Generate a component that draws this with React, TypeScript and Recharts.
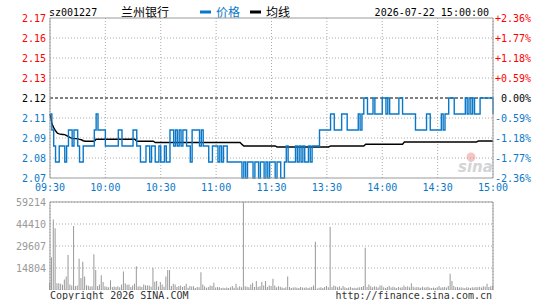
import { LineChart, Line, BarChart, Bar, XAxis, YAxis, CartesianGrid, ReferenceLine } from 'recharts';

const MONO = '"DejaVu Sans Mono", "Liberation Mono", monospace';
const CJK = '"Noto Sans CJK SC", sans-serif';
const BLUE = '#0a78c8';
const RED = '#ff0000';
const GRID = '#aaa';
const BORDER = '#999';

// minute-by-minute quotes, 09:30..11:30 + 13:00..15:00 (241 points)
const prices = [
  2.11, 2.10, 2.09, 2.08, 2.08, 2.09, 2.09, 2.09, 2.08, 2.09,
  2.10, 2.10, 2.09, 2.10, 2.10, 2.09, 2.08, 2.08, 2.09, 2.09,
  2.09, 2.09, 2.09, 2.09, 2.10, 2.11, 2.10, 2.10, 2.10, 2.10,
  2.09, 2.09, 2.09, 2.09, 2.09, 2.09, 2.09, 2.10, 2.10, 2.09,
  2.09, 2.09, 2.09, 2.09, 2.09, 2.10, 2.10, 2.09, 2.09, 2.08,
  2.08, 2.08, 2.09, 2.09, 2.08, 2.09, 2.09, 2.08, 2.08, 2.09,
  2.08, 2.08, 2.09, 2.08, 2.08, 2.10, 2.10, 2.09, 2.10, 2.09,
  2.10, 2.09, 2.10, 2.10, 2.09, 2.09, 2.08, 2.10, 2.10, 2.10,
  2.10, 2.09, 2.10, 2.09, 2.09, 2.09, 2.08, 2.08, 2.09, 2.09,
  2.09, 2.08, 2.09, 2.08, 2.09, 2.09, 2.08, 2.08, 2.08, 2.08,
  2.08, 2.08, 2.08, 2.08, 2.07, 2.08, 2.07, 2.08, 2.08, 2.08,
  2.07, 2.08, 2.08, 2.07, 2.08, 2.08, 2.07, 2.08, 2.07, 2.08,
  2.08, 2.08, 2.07, 2.08, 2.08, 2.07, 2.07, 2.08, 2.09, 2.08,
  2.08, 2.08, 2.08, 2.09, 2.08, 2.09, 2.08, 2.09, 2.08, 2.08,
  2.09, 2.08, 2.09, 2.09, 2.09, 2.09, 2.10, 2.10, 2.10, 2.10,
  2.10, 2.10, 2.11, 2.11, 2.10, 2.10, 2.10, 2.10, 2.11, 2.11,
  2.11, 2.10, 2.10, 2.10, 2.10, 2.10, 2.10, 2.11, 2.10, 2.11,
  2.12, 2.12, 2.11, 2.11, 2.11, 2.12, 2.11, 2.11, 2.11, 2.11,
  2.12, 2.12, 2.11, 2.12, 2.11, 2.11, 2.11, 2.11, 2.11, 2.12,
  2.12, 2.11, 2.11, 2.11, 2.11, 2.11, 2.11, 2.11, 2.10, 2.10,
  2.10, 2.10, 2.10, 2.10, 2.11, 2.11, 2.10, 2.10, 2.10, 2.10,
  2.10, 2.10, 2.11, 2.10, 2.11, 2.11, 2.12, 2.12, 2.12, 2.11,
  2.11, 2.11, 2.11, 2.11, 2.11, 2.12, 2.11, 2.12, 2.11, 2.12,
  2.11, 2.11, 2.11, 2.12, 2.12, 2.12, 2.12, 2.12, 2.12, 2.12,
  2.11,
];

const avgPrices = [
  2.11, 2.104, 2.1015, 2.0995, 2.098, 2.0976, 2.0973, 2.0972, 2.0971, 2.0965,
  2.0958, 2.0952, 2.0948, 2.0946, 2.0946, 2.0945, 2.0941, 2.0939, 2.0933, 2.093,
  2.093, 2.093, 2.093, 2.093, 2.093, 2.0942, 2.0942, 2.0942, 2.0942, 2.0942,
  2.0942, 2.0942, 2.0942, 2.0942, 2.0942, 2.0942, 2.0942, 2.0942, 2.0942, 2.0942,
  2.0942, 2.0942, 2.0942, 2.0942, 2.0942, 2.0942, 2.0942, 2.093, 2.093, 2.093,
  2.093, 2.093, 2.093, 2.093, 2.093, 2.093, 2.093, 2.0922, 2.0922, 2.0922,
  2.0922, 2.0922, 2.0922, 2.0922, 2.0922, 2.0922, 2.0922, 2.0922, 2.0922, 2.0922,
  2.0922, 2.0922, 2.0922, 2.0922, 2.0922, 2.0922, 2.0922, 2.0922, 2.0922, 2.0922,
  2.0922, 2.0922, 2.0922, 2.0922, 2.0922, 2.0922, 2.0922, 2.0922, 2.0922, 2.0922,
  2.0922, 2.0922, 2.0922, 2.0922, 2.0922, 2.0922, 2.0922, 2.0922, 2.0922, 2.0922,
  2.0922, 2.0922, 2.0922, 2.0922, 2.091, 2.09, 2.09, 2.09, 2.09, 2.09,
  2.09, 2.09, 2.09, 2.09, 2.09, 2.09, 2.09, 2.09, 2.09, 2.09,
  2.09, 2.09, 2.09, 2.0894, 2.0894, 2.0894, 2.0894, 2.0894, 2.0894, 2.0894,
  2.0894, 2.0894, 2.0894, 2.0894, 2.0894, 2.0894, 2.0894, 2.0894, 2.0894, 2.0894,
  2.0894, 2.0894, 2.0894, 2.0894, 2.0894, 2.0894, 2.0894, 2.0894, 2.0894, 2.0894,
  2.0894, 2.0894, 2.09, 2.09, 2.09, 2.09, 2.09, 2.09, 2.09, 2.09,
  2.09, 2.09, 2.09, 2.09, 2.09, 2.09, 2.09, 2.09, 2.09, 2.09,
  2.09, 2.0911, 2.0911, 2.0911, 2.0911, 2.0911, 2.0911, 2.0911, 2.0911, 2.0911,
  2.0911, 2.0911, 2.0911, 2.0911, 2.0911, 2.0911, 2.0911, 2.0911, 2.0911, 2.0911,
  2.0911, 2.0911, 2.0925, 2.0925, 2.0925, 2.0925, 2.0925, 2.0925, 2.0925, 2.0925,
  2.0925, 2.0925, 2.0925, 2.0925, 2.0925, 2.0925, 2.0925, 2.0925, 2.0925, 2.0925,
  2.0925, 2.0925, 2.0925, 2.0925, 2.0925, 2.0925, 2.0925, 2.0925, 2.0925, 2.0925,
  2.0925, 2.0925, 2.0925, 2.0925, 2.0925, 2.0925, 2.0925, 2.0925, 2.0925, 2.0925,
  2.0925, 2.0925, 2.0931, 2.0931, 2.0931, 2.0931, 2.0931, 2.0931, 2.0931, 2.0931,
  2.0931,
];

const volumes = [
  5000, 22000, 47500, 41500, 4500, 4600, 4200, 3500, 7000, 9000,
  23500, 3700, 3000, 43000, 2700, 3000, 21000, 8000, 19000, 9000,
  3200, 2800, 2400, 2600, 24000, 13500, 2700, 3700, 10000, 5400,
  2500, 2200, 1800, 6500, 2000, 2400, 2000, 2600, 1800, 3700,
  12500, 4500, 3500, 3700, 2000, 3000, 4200, 16000, 2400, 2500,
  2000, 3700, 3200, 3000, 3000, 2200, 15000, 5500, 6000, 2400,
  5400, 3700, 2200, 9000, 13500, 13500, 2700, 4200, 3700, 2000,
  2700, 3000, 2000, 2700, 4200, 1500, 2700, 2400, 2500, 1400,
  2000, 1800, 12000, 3700, 2500, 1500, 2000, 3000, 2700, 4800,
  1600, 2000, 1800, 1400, 1500, 1400, 1600, 1400, 1800, 2700,
  1500, 4200, 1600, 2500, 1800, 59214, 2500, 2200, 1800, 3700,
  4800, 2000, 6000, 2200, 2500, 5500, 3000, 6000, 2000, 3000,
  2700, 7500, 3000, 1800, 2500, 2200, 1600, 1400, 1800, 9000,
  2000, 1400, 1600, 1800, 1500, 1400, 2000, 1600, 1500, 1800,
  1400, 1600, 2000, 3000, 32500, 1000, 1500, 1800, 1400, 2000,
  2700, 1800, 42500, 2000, 3000, 2500, 1800, 2500, 1500, 2700,
  1800, 1400, 1600, 2000, 1400, 1500, 1400, 1600, 1800, 2000,
  2700, 28500, 2000, 3700, 2500, 1800, 2500, 2200, 1600, 3000,
  3000, 1800, 1400, 2000, 2700, 1600, 2200, 1800, 1400, 2000,
  1600, 1800, 3000, 2000, 2500, 1800, 4500, 2200, 1600, 2000,
  1800, 1500, 2200, 1600, 1800, 2200, 1500, 1400, 1600, 1400,
  1800, 2700, 1600, 1800, 2000, 1600, 2700, 11000, 6000, 2700,
  1800, 2000, 1600, 1800, 1500, 1400, 1800, 1600, 1400, 1800,
  1600, 2000, 1800, 2200, 1600, 2500, 2200, 4200, 2000, 2500,
  3000,
];

const timeTicks = [0, 30, 60, 90, 120, 150, 180, 210, 240];
const timeLabels = ['09:30', '10:00', '10:30', '11:00', '11:30', '13:30', '14:00', '14:30', '15:00'];

const PREV_CLOSE = 2.12;
const priceTicks = [2.07, 2.0825, 2.095, 2.1075, 2.12, 2.1325, 2.145, 2.1575, 2.17];
const priceLabels = ['2.07', '2.08', '2.09', '2.11', '2.12', '2.13', '2.15', '2.16', '2.17'];
const pctLabels = ['-2.36%', '-1.77%', '-1.18%', '-0.59%', '\u00a00.00%', '+0.59%', '+1.18%', '+1.77%', '+2.36%'];

const VOL_MAX = 59214;
const volTicks = [0, 14804, 29607, 44410, 59214];

const rows = prices.map((p, i) => ({ i, price: p, avg: avgPrices[i], vol: volumes[i] }));

function tickColor(idx: number) {
  if (idx === 4) return '#000';
  return idx > 4 ? RED : BLUE;
}

function LeftTick(props: any) {
  const { x, y, payload } = props;
  const idx = priceTicks.indexOf(payload.value);
  return (
    <text x={x} y={y} dy={3.5} textAnchor="end" fontSize={10} fontFamily={MONO} fill={tickColor(idx)}>
      {priceLabels[idx]}
    </text>
  );
}

function RightTick(props: any) {
  const { x, y, payload } = props;
  const idx = priceTicks.indexOf(payload.value);
  return (
    <text x={x} y={y} dy={3.5} textAnchor="start" fontSize={10} fontFamily={MONO} fill={tickColor(idx)}>
      {pctLabels[idx]}
    </text>
  );
}

export default function App() {
  return (
    <div style={{ position: 'absolute', left: 0, top: 0, width: 545, height: 300, background: '#fff' }}>
      <svg width={545} height={300} style={{ position: 'absolute', left: 0, top: 0 }}>
        <text x={49} y={15.5} fontSize={10} fontFamily={MONO} fill="#000">sz001227</text>
        <text x={121} y={16.5} fontSize={12} fontFamily={CJK} fill="#000">兰州银行</text>
        <rect x={200} y={10.5} width={11} height={3} fill={BLUE} />
        <text x={216} y={16.5} fontSize={12} fontFamily={CJK} fill={BLUE}>价格</text>
        <rect x={250} y={10.5} width={11} height={3} fill="#000" />
        <text x={266} y={16.5} fontSize={12} fontFamily={CJK} fill="#000">均线</text>
        <text x={489} y={15.5} fontSize={10} fontFamily={MONO} fill="#000" textAnchor="end">2026-07-22 15:00:00</text>
        <circle cx={471} cy={157} r={4.5} fill="#f6c4c4" />
        <text x={458} y={172} fontSize={15} fontStyle="italic" fontWeight="bold" fontFamily="DejaVu Sans, sans-serif" fill="#d4d4d4">sina</text>
        <text x={50} y={299} fontSize={10} fontFamily={MONO} fill="#333">Copyright 2026 SINA.COM</text>
        <text x={492} y={299} fontSize={10} fontFamily={MONO} fill="#333" textAnchor="end">http://finance.sina.com.cn</text>
      </svg>

      <div style={{ position: 'absolute', left: 0, top: 0 }}>
        <LineChart width={545} height={198} data={rows} margin={{ top: 18, right: 0, bottom: 0, left: 0 }}>
          <CartesianGrid horizontal={false} stroke={GRID} strokeDasharray="1 2" />
          <XAxis
            dataKey="i"
            type="number"
            domain={[0, 240]}
            ticks={timeTicks}
            interval={0}
            height={20}
            tickSize={0}
            tickMargin={6}
            tickLine={false}
            axisLine={{ stroke: BORDER }}
            tick={{ fill: BLUE, fontSize: 10, fontFamily: MONO }}
            tickFormatter={(v: number) => timeLabels[timeTicks.indexOf(v)]}
          />
          <YAxis
            yAxisId="left"
            domain={[2.07, 2.17]}
            ticks={priceTicks}
            interval={0}
            width={50}
            tickSize={0}
            tickMargin={4}
            tickLine={false}
            axisLine={{ stroke: BORDER }}
            tick={LeftTick}
          />
          <YAxis
            yAxisId="right"
            orientation="right"
            domain={[2.07, 2.17]}
            ticks={priceTicks}
            interval={0}
            width={52}
            tickSize={0}
            tickMargin={2}
            tickLine={false}
            axisLine={{ stroke: BORDER }}
            tick={RightTick}
          />
          {priceTicks
            .filter((v) => v !== 2.07 && v !== 2.17 && v !== PREV_CLOSE)
            .map((v) => (
              <ReferenceLine key={v} yAxisId="left" y={v} stroke={GRID} strokeDasharray="1 2" />
            ))}
          <ReferenceLine yAxisId="left" y={2.17} stroke={BORDER} />
          <ReferenceLine yAxisId="left" y={PREV_CLOSE} stroke="#000" strokeDasharray="3 2" />
          <Line
            yAxisId="right"
            dataKey="avg"
            type="linear"
            stroke="#000"
            strokeWidth={1.4}
            dot={false}
            isAnimationActive={false}
          />
          <Line
            yAxisId="left"
            dataKey="price"
            type="stepAfter"
            stroke={BLUE}
            strokeWidth={1.4}
            dot={false}
            isAnimationActive={false}
          />
        </LineChart>
      </div>

      <div style={{ position: 'absolute', left: 0, top: 190 }}>
        <BarChart width={545} height={100} data={rows} margin={{ top: 12, right: 52, bottom: 0, left: 0 }}>
          <CartesianGrid stroke={GRID} strokeDasharray="1 2" />
          <XAxis
            dataKey="i"
            type="number"
            domain={[0, 240]}
            ticks={timeTicks}
            interval={0}
            height={0}
            tick={false}
            tickLine={false}
            axisLine={{ stroke: BORDER }}
          />
          <YAxis
            domain={[0, VOL_MAX]}
            ticks={volTicks}
            interval={0}
            width={50}
            tickSize={0}
            tickMargin={4}
            tickLine={false}
            axisLine={{ stroke: BORDER }}
            tick={{ fill: '#999', fontSize: 10, fontFamily: MONO }}
            tickFormatter={(v: number) => (v === 0 ? '' : String(v))}
          />
          <ReferenceLine x={240} stroke={BORDER} />
          <ReferenceLine y={VOL_MAX} stroke={BORDER} />
          <Bar dataKey="vol" fill="#999" barSize={1} isAnimationActive={false} />
        </BarChart>
      </div>
    </div>
  );
}
